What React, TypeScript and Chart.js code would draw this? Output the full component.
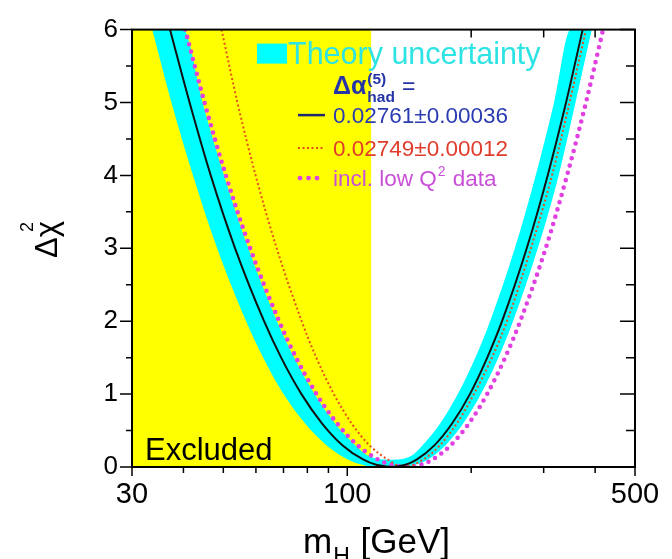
import React, { useEffect, useRef } from "react";
import { Chart, registerables } from "chart.js";
Chart.register(...registerables);

// ---- data ----
const excludedMass = [30, 114.4];
const excludedTop = [6, 6];

const massBlack = [37.1, 41.4, 46.6, 53.4, 62.8, 69.1, 77.4, 86.8, 97.3, 109.5, 117.6, 128.4, 138.5, 147.4, 163.0, 179.9, 198.6, 218.8, 237.7, 272.9, 306.8, 340.0, 373.1];
const chi2Black = [6, 5, 4, 3, 2, 1.5, 1, 0.6, 0.3, 0.1, 0.03, 0, 0.03, 0.1, 0.3, 0.6, 1, 1.5, 2, 3, 4, 5, 6];

const massRed = [49.5, 54.1, 59.9, 67.4, 77.5, 84.1, 92.8, 102.4, 113.1, 125.6, 136.6, 152.7, 168.0, 184.7, 203.1, 224.6, 244.3, 279.4, 314.3, 346.6, 380.1];
const chi2Red = [6, 5, 4, 3, 2, 1.5, 1, 0.6, 0.3, 0.1, 0, 0.1, 0.3, 0.6, 1, 1.5, 2, 3, 4, 5, 6];

const massMag = [40.4, 45.0, 50.7, 58.1, 68.3, 75.1, 84.2, 94.4, 105.8, 119.0, 127.9, 139.7, 150.9, 160.9, 178.5, 197.6, 218.6, 241.8, 263.1, 303.4, 341.9, 380.1, 418.2];
const chi2Mag = [6, 5, 4, 3, 2, 1.5, 1, 0.6, 0.3, 0.1, 0.03, 0, 0.03, 0.1, 0.3, 0.6, 1, 1.5, 2, 3, 4, 5, 6];

const massBandOut = [33.6, 37.4, 42.2, 48.3, 56.8, 62.5, 70.0, 78.9, 89.0, 100.6, 108.6, 116.1, 136.6, 146.0, 156.7, 173.3, 191.4, 211.2, 232.8, 252.8, 290.3, 326.2, 358.5, 392.6];
const chi2BandOut = [6, 5, 4, 3, 2, 1.5, 1, 0.6, 0.3, 0.1, 0.03, 0, 0, 0.03, 0.1, 0.3, 0.6, 1, 1.5, 2, 3, 4, 5, 6];

const massBandIn = [33.6, 39.9, 44.5, 50.2, 57.5, 67.5, 74.3, 83.3, 93.3, 104.6, 112.9, 127.7, 142.8, 152.4, 168.3, 185.6, 204.7, 222.3, 255.3, 286.9, 318.0, 349.0, 392.6];
const chi2BandIn = [6, 6, 5, 4, 3, 2, 1.5, 1, 0.6, 0.3, 0.15, 0.1, 0.15, 0.3, 0.6, 1, 1.5, 2, 3, 4, 5, 6, 6];

const xTickLabels = [30, 100, 500];
const xTickMarks = [30, 40, 50, 60, 70, 80, 90, 100, 200, 300, 400, 500];
const yTickLabels = [0, 1, 2, 3, 4, 5, 6];
const yTickMarks = [0, 0.5, 1, 1.5, 2, 2.5, 3, 3.5, 4, 4.5, 5, 5.5, 6];

const FONT = '"Liberation Sans", Arial, Helvetica, sans-serif';

function pts(xs: number[], ys: number[]) {
  return xs.map((x, i) => ({ x, y: ys[i] }));
}

function txt(ctx: CanvasRenderingContext2D, s: string, x: number, y: number, size: number, color: string, bold = false) {
  ctx.font = `${bold ? "bold " : ""}${size}px ${FONT}`;
  ctx.fillStyle = color;
  ctx.textAlign = "left";
  ctx.textBaseline = "alphabetic";
  ctx.fillText(s, x, y);
  return ctx.measureText(s).width;
}

const decorPlugin = {
  id: "decor",
  beforeDatasetsDraw(chart: any) {
    const { ctx, chartArea: a, scales } = chart;
    const x = scales.x, y = scales.y;
    ctx.save();
    ctx.strokeStyle = "#000";
    ctx.lineWidth = 1.5;
    ctx.beginPath();
    for (const v of xTickMarks) {
      const px = x.getPixelForValue(v);
      const len = xTickLabels.includes(v) ? 12 : 8;
      ctx.moveTo(px, a.top);
      ctx.lineTo(px, a.top + len);
    }
    for (const v of yTickMarks) {
      const py = y.getPixelForValue(v);
      const len = Number.isInteger(v) ? 15 : 9;
      ctx.moveTo(a.right, py);
      ctx.lineTo(a.right - len, py);
    }
    ctx.stroke();
    ctx.restore();
  },
  afterDatasetsDraw(chart: any) {
    const { ctx, chartArea: a, scales } = chart;
    const x = scales.x, y = scales.y;
    ctx.save();
    // outward ticks
    ctx.strokeStyle = "#000";
    ctx.lineWidth = 1.5;
    ctx.beginPath();
    for (const v of xTickMarks) {
      const px = x.getPixelForValue(v);
      const len = xTickLabels.includes(v) ? 9 : 6;
      ctx.moveTo(px, a.bottom);
      ctx.lineTo(px, a.bottom + len);
    }
    for (const v of yTickMarks) {
      const py = y.getPixelForValue(v);
      const len = Number.isInteger(v) ? 12 : 6;
      ctx.moveTo(a.left, py);
      ctx.lineTo(a.left - len, py);
    }
    ctx.stroke();
    // frame
    ctx.lineWidth = 2;
    ctx.strokeRect(a.left, a.top, a.right - a.left, a.bottom - a.top);

    // Excluded label
    txt(ctx, "Excluded", a.left + 13, a.bottom - 7, 31, "#000");

    // legend
    const L = a.left;
    const T = a.top;
    ctx.fillStyle = "#00ffff";
    ctx.fillRect(L + 125, T + 14, 30, 20);
    txt(ctx, "Theory uncertainty", L + 156, T + 34, 30.5, "#2ee3e3");

    const blue = "#2535a8";
    const w = txt(ctx, "\u0394\u03b1", L + 201, T + 64, 25, blue, true);
    txt(ctx, "(5)", L + 201 + w + 1, T + 54, 15.5, blue, true);
    const w2 = txt(ctx, "had", L + 201 + w + 1, T + 72, 15.5, blue, true);
    txt(ctx, "=", L + 201 + w + w2 + 8, T + 64, 23, blue);

    // legend samples
    ctx.lineWidth = 2.5;
    ctx.strokeStyle = "#1c2870";
    ctx.beginPath();
    ctx.moveTo(L + 166, T + 85.5);
    ctx.lineTo(L + 193, T + 85.5);
    ctx.stroke();
    txt(ctx, "0.02761\u00b10.00036", L + 201, T + 93.5, 22.5, "#2a3cb0");

    ctx.lineWidth = 2;
    ctx.strokeStyle = "#e4501e";
    ctx.setLineDash([2, 2.5]);
    ctx.beginPath();
    ctx.moveTo(L + 166, T + 118.5);
    ctx.lineTo(L + 193, T + 118.5);
    ctx.stroke();
    ctx.setLineDash([]);
    txt(ctx, "0.02749\u00b10.00012", L + 201, T + 126.5, 22.5, "#e03c2c");

    ctx.fillStyle = "#e040e0";
    for (const dx of [168, 176.5, 185]) {
      ctx.beginPath();
      ctx.arc(L + dx, T + 148.5, 2.4, 0, Math.PI * 2);
      ctx.fill();
    }
    const mag = "#c850d8";
    let xx = L + 201;
    xx += txt(ctx, "incl. low Q", xx, T + 156.5, 22.5, mag);
    xx += txt(ctx, "2", xx + 1, T + 146, 14, mag) + 2;
    txt(ctx, " data", xx, T + 156.5, 22.5, mag);

    // axis titles
    ctx.save();
    ctx.translate(57, 258);
    ctx.rotate(-Math.PI / 2);
    const wt = txt(ctx, "\u0394\u03c7", 0, 0, 31, "#000");
    txt(ctx, "2", wt - 11, -24, 18, "#000");
    ctx.restore();

    let mx = 303;
    mx += txt(ctx, "m", mx, 553, 35, "#000");
    const wh = txt(ctx, "H", mx + 1, 564, 23, "#000");
    txt(ctx, " [GeV]", mx + wh + 2, 553, 35, "#000");

    ctx.restore();
  },
};

export default function App() {
  const ref = useRef<HTMLCanvasElement | null>(null);
  useEffect(() => {
    if (!ref.current) return;
    const lineBase = {
      showLine: true,
      pointRadius: 0,
      pointHoverRadius: 0,
      cubicInterpolationMode: "monotone" as const,
      fill: false,
    };
    const chart = new Chart(ref.current, {
      type: "scatter",
      data: {
        datasets: [
          { ...lineBase, label: "0.02761±0.00036", data: pts(massBlack, chi2Black), borderColor: "#111", borderWidth: 2, order: 1 },
          { ...lineBase, label: "0.02749±0.00012", data: pts(massRed, chi2Red), borderColor: "#e4501e", borderWidth: 2, borderDash: [2, 2.5], order: 2 },
          { ...lineBase, label: "incl. low Q2 data", data: pts(massMag, chi2Mag), borderColor: "#e040e0", borderWidth: 4.6, borderDash: [0, 7.6], borderCapStyle: "round", order: 3 },
          { ...lineBase, label: "band outer", data: pts(massBandOut, chi2BandOut), borderColor: "rgba(0,0,0,0)", borderWidth: 1, order: 5 },
          { ...lineBase, label: "Theory uncertainty", data: pts(massBandIn, chi2BandIn), borderColor: "rgba(0,0,0,0)", borderWidth: 1, fill: "-1", backgroundColor: "#00ffff", order: 4 },
          { showLine: true, pointRadius: 0, label: "Excluded", data: pts(excludedMass, excludedTop), borderColor: "rgba(0,0,0,0)", borderWidth: 1, fill: "origin", backgroundColor: "#ffff00", order: 6 },
        ] as any,
      },
      options: {
        animation: false,
        responsive: false,
        devicePixelRatio: 1,
        events: [],
        layout: { padding: { left: 0, right: 37, top: 18, bottom: 0 } },
        plugins: { legend: { display: false }, tooltip: { enabled: false } },
        scales: {
          x: {
            type: "logarithmic",
            min: 30,
            max: 500,
            position: "bottom",
            afterBuildTicks: (s: any) => {
              s.ticks = xTickLabels.map((v) => ({ value: v }));
            },
            afterFit: (s: any) => {
              s.height = 92;
            },
            ticks: {
              font: { family: FONT, size: 29 },
              color: "#000",
              padding: 11,
              maxRotation: 0,
              autoSkip: false,
              callback: (v: any) => String(v),
            },
            grid: { display: false, drawTicks: false },
            border: { display: false },
          },
          y: {
            type: "linear",
            min: 0,
            max: 6,
            afterBuildTicks: (s: any) => {
              s.ticks = yTickLabels.map((v) => ({ value: v }));
            },
            afterFit: (s: any) => {
              s.width = 132;
            },
            ticks: {
              font: { family: FONT, size: 26 },
              color: "#000",
              padding: 14,
              callback: (v: any) => String(v),
            },
            grid: { display: false, drawTicks: false },
            border: { display: false },
          },
        },
      } as any,
      plugins: [decorPlugin],
    });
    return () => chart.destroy();
  }, []);
  return (
    <div style={{ position: "absolute", left: 0, top: 0, width: 672, height: 559, background: "#fff" }}>
      <canvas ref={ref} width={672} height={559} style={{ display: "block" }} />
    </div>
  );
}
